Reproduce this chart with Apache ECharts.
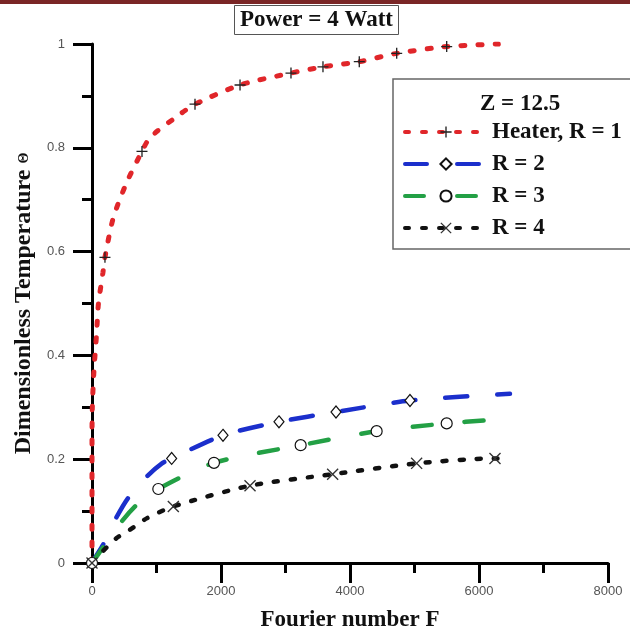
<!DOCTYPE html>
<html>
<head>
<meta charset="utf-8">
<script src="https://cdn.jsdelivr.net/npm/echarts@6/dist/echarts.min.js"></script>
<style>
  html, body { margin: 0; padding: 0; background: #fff; }
  #box { width: 630px; height: 637px; }
</style>
</head>
<body>
<div id="box"></div>
<script>
// curve points [Fourier number, dimensionless temperature]
var heaterPts = [[0,0],[0,0.24],[5,0.30],[30,0.37],[70,0.44],[100,0.50],[170,0.56],[201,0.589],[330,0.665],[537,0.733],[775,0.793],[900,0.82],[1313,0.86],[1597,0.884],[2295,0.921],[3085,0.944],[3581,0.956],[4144,0.966],[4724,0.982],[5499,0.995],[6300,1.0]];
var r2Pts = [[0,0],[46,0.01],[170,0.035],[357,0.083],[558,0.125],[853,0.167],[1085,0.192],[1235,0.2015],[2031,0.246],[2899,0.272],[3783,0.291],[4930,0.313],[6480,0.326]];
var r3Pts = [[0,0],[170,0.03],[460,0.08],[693,0.112],[1028,0.1426],[1891,0.193],[3235,0.227],[4413,0.254],[5499,0.269],[6140,0.275]];
var r4Pts = [[0,0],[170,0.023],[382,0.048],[589,0.064],[848,0.086],[1261,0.109],[2450,0.149],[3731,0.171],[5033,0.192],[6248,0.2015],[6450,0.2015]];
// F values where a marker is drawn (first point with that F)
var heaterMarks = [0,201,775,1597,2295,3085,3581,4144,4724,5499];
var r2Marks = [0,1235,2031,2899,3783,4930];
var r3Marks = [0,1028,1891,3235,4413,5499];
var r4Marks = [0,1261,2450,3731,5033,6248];
var names = ['Heater, R = 1','R = 2','R = 3','R = 4'];
var xTicks = [0,2000,4000,6000,8000];
var yTicks = [0,0.2,0.4,0.6,0.8,1];

function build(pts, marks) {
  var used = {};
  return pts.map(function (p) {
    if (marks.indexOf(p[0]) >= 0 && !used[p[0]]) {
      used[p[0]] = true;
      return { value: p };
    }
    return { value: p, symbol: 'none' };
  });
}

var plusPath = 'path://M4.4,0H5.6V4.4H10V5.6H5.6V10H4.4V5.6H0V4.4H4.4Z';
var crossPath = 'path://M0,0.8L0.8,0L5,4.2L9.2,0L10,0.8L5.8,5L10,9.2L9.2,10L5,5.8L0.8,10L0,9.2L4.2,5Z';
var serif = '"Liberation Serif","Times New Roman",serif';

var chart = echarts.init(document.getElementById('box'));
var option = {
  backgroundColor: '#fff',
  animation: false,
  graphic: [{ type: 'rect', shape: { x: 0, y: 0, width: 630, height: 4 }, style: { fill: '#7a2626' } }],
  title: [{
    text: 'Power = 4 Watt',
    left: 234, top: 5,
    padding: [4, 6, 3, 6],
    borderColor: '#555', borderWidth: 1,
    textStyle: { fontFamily: serif, fontWeight: 'bold', fontSize: 23, color: '#111' }
  }, {
    text: 'Z = 12.5',
    left: 475, top: 88,
    textStyle: { fontFamily: serif, fontWeight: 'bold', fontSize: 23, color: '#111' }
  }],
  legend: {
    orient: 'vertical',
    left: 393, top: 79,
    padding: [41, 60, 9, 10],
    borderColor: '#666', borderWidth: 1.5,
    itemWidth: 82, itemHeight: 14, itemGap: 8,
    data: names,
    lineStyle: { width: 4, cap: 'round' },
    textStyle: { fontFamily: serif, fontWeight: 'bold', fontSize: 23, lineHeight: 24, color: '#111' }
  },
  grid: { left: 92, right: 22, top: 44, bottom: 72 },
  xAxis: {
    type: 'value', min: 0, max: 8000, interval: 2000,
    name: 'Fourier number F', nameLocation: 'middle', nameGap: 46,
    nameTextStyle: { fontFamily: serif, fontWeight: 'bold', fontSize: 23, color: '#111' },
    axisLine: { lineStyle: { color: '#000', width: 3 } },
    axisTick: { length: 20, lineStyle: { width: 3, color: '#000' } },
    minorTick: { show: true, splitNumber: 2, length: 10, lineStyle: { width: 3, color: '#000' } },
    splitLine: { show: false },
    axisLabel: { margin: 22, fontFamily: 'Liberation Sans, Arial', fontSize: 13, color: '#555',
      formatter: function (v) { return xTicks.indexOf(v) >= 0 ? String(v) : ''; } }
  },
  yAxis: {
    type: 'value', min: 0, max: 1, interval: 0.2,
    name: 'Dimensionless Temperature {s|Θ}', nameLocation: 'middle', nameGap: 55,
    nameTextStyle: { fontFamily: serif, fontWeight: 'bold', fontSize: 24, color: '#111',
      rich: { s: { fontFamily: serif, fontSize: 14, color: '#111' } } },
    axisLine: { lineStyle: { color: '#000', width: 3 } },
    axisTick: { length: 19, lineStyle: { width: 3, color: '#000' } },
    minorTick: { show: true, splitNumber: 2, length: 10, lineStyle: { width: 3, color: '#000' } },
    splitLine: { show: false },
    axisLabel: { margin: 27, fontFamily: 'Liberation Sans, Arial', fontSize: 13, color: '#555',
      formatter: function (v) {
        var t = yTicks.filter(function (k) { return Math.abs(k - v) < 1e-9; });
        return t.length ? String(+v.toFixed(1)) : '';
      } }
  },
  series: [{
    name: names[0], type: 'line', smooth: 0.25,
    data: build(heaterPts, heaterMarks),
    symbol: plusPath, symbolSize: 11,
    itemStyle: { color: '#222' },
    lineStyle: { color: '#e0262a', width: 5, type: [4, 13], cap: 'round' }
  }, {
    name: names[1], type: 'line', smooth: 0.25,
    data: build(r2Pts, r2Marks),
    symbol: 'diamond', symbolSize: [10, 12],
    itemStyle: { color: '#fff', borderColor: '#111', borderWidth: 1.2 },
    lineStyle: { color: '#1b2fcc', width: 4.5, type: [22, 30], cap: 'round' }
  }, {
    name: names[2], type: 'line', smooth: 0.25,
    data: build(r3Pts, r3Marks),
    symbol: 'circle', symbolSize: 11,
    itemStyle: { color: '#fff', borderColor: '#111', borderWidth: 1.2 },
    lineStyle: { color: '#23a045', width: 4.5, type: [19, 33], cap: 'round' }
  }, {
    name: names[3], type: 'line', smooth: 0.25,
    data: build(r4Pts, r4Marks),
    symbol: crossPath, symbolSize: 12,
    itemStyle: { color: '#333' },
    lineStyle: { color: '#111', width: 4.5, type: [4, 13], cap: 'round' }
  }]
};
chart.setOption(option);
</script>
</body>
</html>
